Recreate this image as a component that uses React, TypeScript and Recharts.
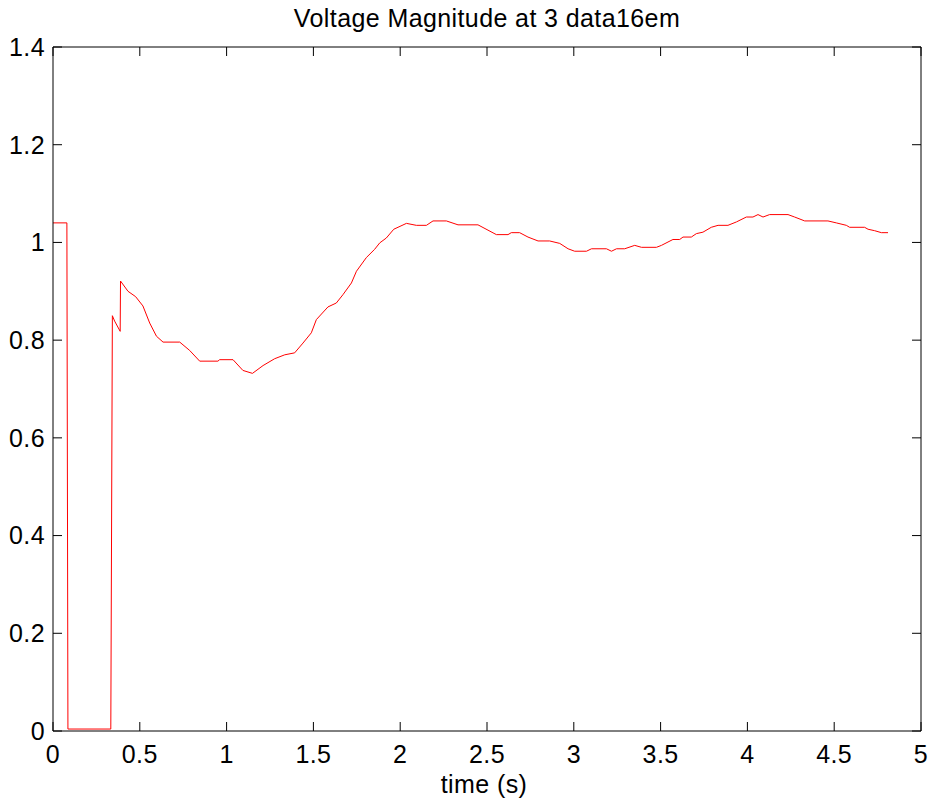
import { Line, LineChart, XAxis, YAxis } from "recharts";

// voltage magnitude trace (time in s, voltage in pu)
const TIME = [
  0, 0.08, 0.086, 0.333, 0.342, 0.355, 0.387, 0.389, 0.432, 0.476, 0.518, 0.557, 0.596, 0.634, 0.73, 0.787,
  0.845, 0.95, 0.96, 1.037, 1.094, 1.149, 1.21, 1.277, 1.335, 1.392, 1.44, 1.488, 1.517, 1.584, 1.632, 1.67,
  1.719, 1.748, 1.805, 1.853, 1.882, 1.92, 1.963, 2.036, 2.093, 2.151, 2.189, 2.266, 2.333, 2.448, 2.554,
  2.621, 2.64, 2.688, 2.736, 2.794, 2.861, 2.919, 2.967, 3.005, 3.073, 3.102, 3.188, 3.217, 3.246, 3.293,
  3.351, 3.39, 3.476, 3.505, 3.571, 3.61, 3.629, 3.677, 3.706, 3.744, 3.792, 3.831, 3.888, 3.937, 3.994,
  4.032, 4.061, 4.09, 4.128, 4.234, 4.272, 4.33, 4.464, 4.512, 4.57, 4.589, 4.675, 4.695, 4.733, 4.772, 4.81,
];

const VOLTAGE = [
  1.04, 1.04, 0.004, 0.004, 0.85, 0.839, 0.818, 0.921, 0.9, 0.889, 0.87, 0.835, 0.808, 0.796, 0.796, 0.779,
  0.757, 0.757, 0.76, 0.76, 0.738, 0.732, 0.748, 0.762, 0.77, 0.774, 0.794, 0.815, 0.842, 0.868, 0.876, 0.893,
  0.917, 0.941, 0.969, 0.986, 0.999, 1.009, 1.027, 1.039, 1.035, 1.035, 1.044, 1.044, 1.036, 1.036, 1.016,
  1.016, 1.02, 1.02, 1.011, 1.003, 1.003, 0.998, 0.987, 0.982, 0.982, 0.987, 0.987, 0.982, 0.987, 0.987,
  0.994, 0.99, 0.99, 0.994, 1.006, 1.006, 1.011, 1.011, 1.018, 1.021, 1.031, 1.035, 1.035, 1.042, 1.052,
  1.052, 1.057, 1.052, 1.057, 1.057, 1.052, 1.044, 1.044, 1.04, 1.035, 1.031, 1.031, 1.027, 1.024, 1.02, 1.02,
];

const X_TICKS = [0, 0.5, 1, 1.5, 2, 2.5, 3, 3.5, 4, 4.5, 5];
const Y_TICKS = [0, 0.2, 0.4, 0.6, 0.8, 1, 1.2, 1.4];

const TITLE = "Voltage Magnitude at 3 data16em";
const X_LABEL = "time (s)";

const FONT = "Arial, 'Liberation Sans', Helvetica, sans-serif";
const textStyle = { fontSize: 25, fontFamily: FONT, fill: "#000", letterSpacing: 0.4 };
const noLabel = () => "";

export default function App() {
  const data = TIME.map((t, i) => ({ t, v: VOLTAGE[i] }));

  return (
    <div style={{ position: "absolute", left: 0, top: 0, background: "#fff" }}>
      <LineChart width={932} height={803} data={data} margin={{ top: 46, right: 10, bottom: 0, left: 0 }}>
        <XAxis
          dataKey="t"
          type="number"
          domain={[0, 5]}
          ticks={X_TICKS}
          height={72}
          stroke="#000"
          tickSize={-9}
          tickMargin={23}
          tick={textStyle}
          allowDataOverflow
        />
        {/* top and right axes only close the box and carry inward ticks */}
        <XAxis
          xAxisId="top"
          orientation="top"
          dataKey="t"
          type="number"
          domain={[0, 5]}
          ticks={X_TICKS}
          height={1}
          stroke="#000"
          tickSize={-9}
          tickFormatter={noLabel}
          allowDataOverflow
        />
        <YAxis
          type="number"
          domain={[0, 1.4]}
          ticks={Y_TICKS}
          width={53}
          stroke="#000"
          tickSize={-9}
          tickMargin={17}
          tick={textStyle}
          allowDataOverflow
        />
        <YAxis
          yAxisId="right"
          orientation="right"
          type="number"
          domain={[0, 1.4]}
          ticks={Y_TICKS}
          width={1}
          stroke="#000"
          tickSize={-9}
          tickFormatter={noLabel}
          allowDataOverflow
        />
        <Line
          type="linear"
          dataKey="v"
          stroke="#ff0000"
          strokeWidth={1}
          dot={false}
          activeDot={false}
          isAnimationActive={false}
        />
        <text x={487} y={27} textAnchor="middle" style={textStyle}>
          {TITLE}
        </text>
        <text x={484} y={793} textAnchor="middle" style={textStyle}>
          {X_LABEL}
        </text>
      </LineChart>
    </div>
  );
}
